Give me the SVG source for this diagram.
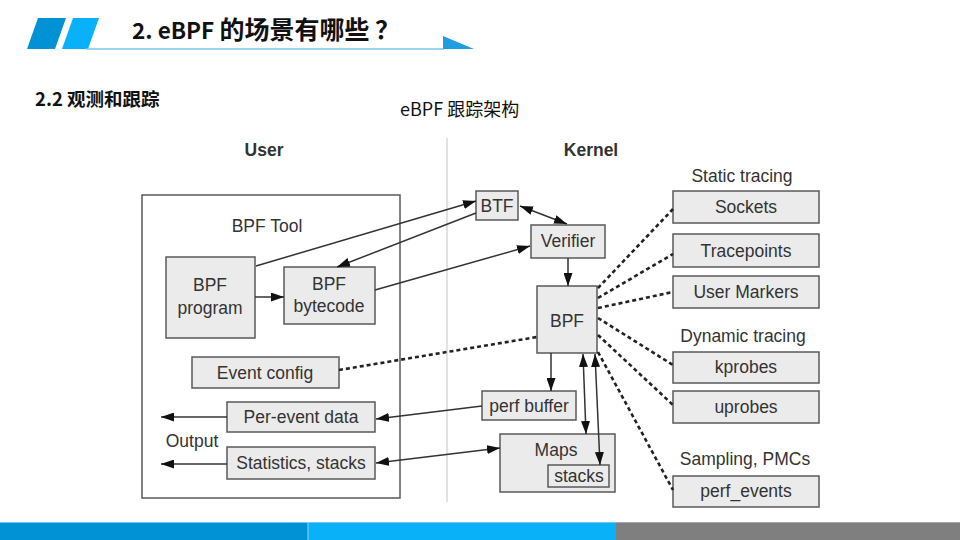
<svg xmlns="http://www.w3.org/2000/svg" width="960" height="540" viewBox="0 0 960 540">
<defs>
<style>
.box{fill:#ebebeb;stroke:#5a5a5a;stroke-width:1.5}
.t{font-family:"Liberation Sans",Arial,sans-serif;font-size:17.5px;fill:#333;text-anchor:middle}
.h{font-family:"Liberation Sans",Arial,sans-serif;font-size:17.5px;font-weight:bold;fill:#333;text-anchor:middle}
.ln{stroke:#333;stroke-width:1.5;fill:none}
.dot{stroke:#222;stroke-width:2.6;fill:none;stroke-dasharray:4 3}
</style>
<marker id="ah" markerWidth="13" markerHeight="9" refX="13" refY="4.5" orient="auto-start-reverse" markerUnits="userSpaceOnUse"><path d="M0,0 L13,4.5 L0,9 z" fill="#111"/></marker>
</defs>
<rect width="960" height="540" fill="#fff"/>
<!-- header -->
<g id="header">
<polygon points="38,18 66,18 55,49 27,49" fill="#0092d5"/>
<polygon points="73,18 99,18 88,49 62,49" fill="#08b1f8"/>
<line x1="86" y1="49" x2="444" y2="49" stroke="#7cc6ef" stroke-width="1.5"/>
<polygon points="443,36 474,49 443,49" fill="#229ce0"/>
<text x="132" y="39" font-family="'Noto Sans CJK SC','Noto Sans',sans-serif" font-weight="bold" fill="#111"><tspan font-size="22.5">2. eBPF </tspan><tspan font-size="25">的场景有哪些 ？</tspan></text>
<text x="35" y="106" font-family="'Noto Sans CJK SC','Noto Sans',sans-serif" font-weight="bold" font-size="18.5" fill="#111">2.2 观测和跟踪</text>
<text x="400" y="116" font-family="'Noto Sans CJK SC','Noto Sans',sans-serif" font-size="18" fill="#111">eBPF 跟踪架构</text>
</g>
<!-- bottom bar -->
<g id="footer">
<rect x="0" y="522" width="308" height="18" fill="#0092d5"/>
<rect x="308" y="522" width="308" height="18" fill="#08b1f8"/>
<rect x="616" y="522" width="344" height="18" fill="#7f7f7f"/>
<line x1="0" y1="522.5" x2="616" y2="522.5" stroke="#6cc8f2" stroke-width="1"/>
<line x1="616" y1="522.5" x2="960" y2="522.5" stroke="#a8a8a8" stroke-width="1"/>
<line x1="308" y1="522" x2="308" y2="540" stroke="#8fd6f8" stroke-width="1"/>
</g>
<!-- divider -->
<line x1="447" y1="138" x2="447" y2="502" stroke="#e2e2e2" stroke-width="2"/>
<text class="h" x="264" y="156">User</text>
<text class="h" x="591" y="156">Kernel</text>
<!-- user side -->
<g id="bpf-tool"><rect x="142" y="195" width="258" height="303" fill="#fff" stroke="#5a5a5a" stroke-width="1.5"/><text class="t" x="267" y="232">BPF Tool</text></g>
<g id="bpf-program"><rect class="box" x="166" y="257" width="89" height="81"/><text class="t" x="210" y="291">BPF</text><text class="t" x="210" y="314">program</text></g>
<g id="bpf-bytecode"><rect class="box" x="284" y="267" width="91" height="57"/><text class="t" x="329" y="290">BPF</text><text class="t" x="329" y="312">bytecode</text></g>
<g id="event-config"><rect class="box" x="192" y="357" width="147" height="31"/><text class="t" x="265" y="379">Event config</text></g>
<g id="per-event-data"><rect class="box" x="227" y="402" width="148" height="30"/><text class="t" x="301" y="423">Per-event data</text></g>
<g id="statistics"><rect class="box" x="227" y="447" width="148" height="32"/><text class="t" x="301" y="469">Statistics, stacks</text></g>
<text id="output" class="t" x="192" y="447">Output</text>
<!-- kernel side -->
<g id="btf"><rect class="box" x="476" y="191" width="42" height="29"/><text class="t" x="497" y="212">BTF</text></g>
<g id="verifier"><rect class="box" x="531" y="225" width="74" height="33"/><text class="t" x="568" y="247">Verifier</text></g>
<g id="bpf"><rect class="box" x="537" y="286" width="60" height="67"/><text class="t" x="567" y="327">BPF</text></g>
<g id="perf-buffer"><rect class="box" x="482" y="391" width="94" height="29"/><text class="t" x="529" y="412">perf buffer</text></g>
<g id="maps"><rect class="box" x="500" y="434" width="115" height="58"/><text class="t" x="556" y="456">Maps</text><rect class="box" x="548" y="465" width="61" height="22"/><text class="t" x="579" y="482">stacks</text></g>
<!-- event sources -->
<text class="t" x="742" y="182">Static tracing</text>
<g id="sockets"><rect class="box" x="673" y="191" width="146" height="32"/><text class="t" x="746" y="213">Sockets</text></g>
<g id="tracepoints"><rect class="box" x="673" y="234" width="146" height="33"/><text class="t" x="746" y="257">Tracepoints</text></g>
<g id="user-markers"><rect class="box" x="673" y="276" width="146" height="32"/><text class="t" x="746" y="298">User Markers</text></g>
<text class="t" x="743" y="342">Dynamic tracing</text>
<g id="kprobes"><rect class="box" x="673" y="352" width="146" height="31"/><text class="t" x="746" y="373">kprobes</text></g>
<g id="uprobes"><rect class="box" x="673" y="391" width="146" height="32"/><text class="t" x="746" y="413">uprobes</text></g>
<text class="t" x="745" y="465">Sampling, PMCs</text>
<g id="perf-events"><rect class="box" x="673" y="476" width="146" height="31"/><text class="t" x="746" y="497">perf_events</text></g>
<!-- connectors -->
<g id="connectors">
<line class="ln" x1="255" y1="297" x2="284" y2="297" marker-end="url(#ah)"/>
<line class="ln" x1="256" y1="266" x2="476" y2="201" marker-end="url(#ah)"/>
<line class="ln" x1="476" y1="213" x2="337" y2="267" marker-end="url(#ah)"/>
<line class="ln" x1="375" y1="290" x2="530" y2="246" marker-end="url(#ah)"/>
<line class="ln" x1="520" y1="206" x2="567" y2="224" marker-start="url(#ah)" marker-end="url(#ah)"/>
<line class="ln" x1="568" y1="258" x2="568" y2="286" marker-end="url(#ah)"/>
<line class="ln" x1="551" y1="353" x2="551" y2="391" marker-end="url(#ah)"/>
<line class="ln" x1="482" y1="406" x2="376" y2="419" marker-end="url(#ah)"/>
<line class="ln" x1="500" y1="448" x2="376" y2="463" marker-start="url(#ah)" marker-end="url(#ah)"/>
<line class="ln" x1="583" y1="354" x2="586" y2="434" marker-start="url(#ah)" marker-end="url(#ah)"/>
<line class="ln" x1="595" y1="354" x2="600" y2="465" marker-start="url(#ah)" marker-end="url(#ah)"/>
<line class="ln" x1="227" y1="417" x2="161" y2="417" marker-end="url(#ah)"/>
<line class="ln" x1="227" y1="464" x2="161" y2="464" marker-end="url(#ah)"/>
<line class="dot" x1="339" y1="370" x2="537" y2="337"/>
<line class="dot" x1="598" y1="288" x2="673" y2="209"/>
<line class="dot" x1="598" y1="298" x2="673" y2="254"/>
<line class="dot" x1="598" y1="308" x2="673" y2="292"/>
<line class="dot" x1="598" y1="318" x2="673" y2="365"/>
<line class="dot" x1="598" y1="335" x2="673" y2="405"/>
<line class="dot" x1="598" y1="352" x2="673" y2="490"/>
</g>
</svg>
